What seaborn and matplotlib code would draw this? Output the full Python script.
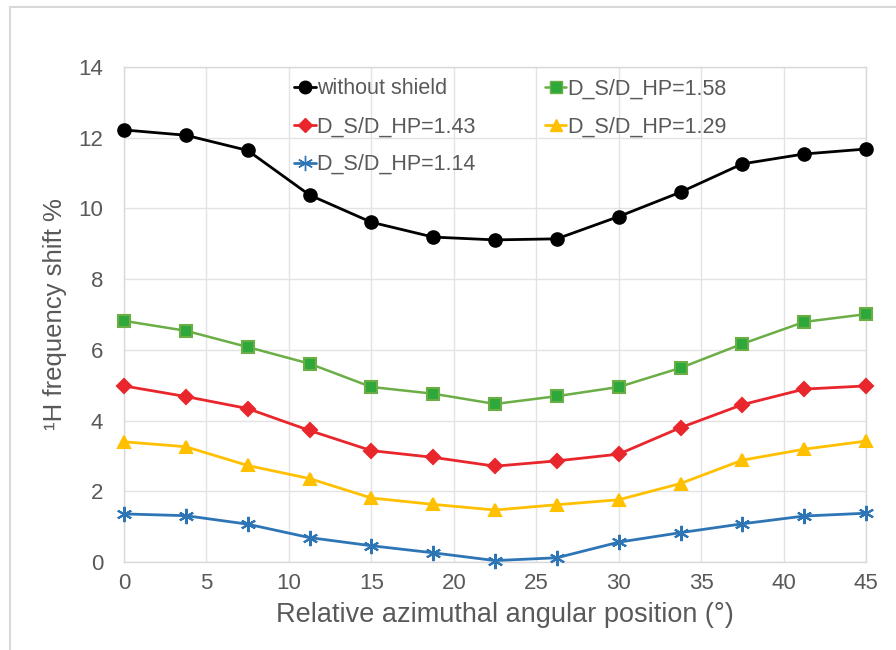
import numpy as np
import pandas as pd
import matplotlib
matplotlib.use("Agg")
import matplotlib.pyplot as plt
from matplotlib.lines import Line2D
import seaborn as sns

# Azimuthal positions (degrees)
angle = [0, 3.75, 7.5, 11.25, 15, 18.75, 22.5, 26.25, 30, 33.75, 37.5, 41.25, 45]

# 1H frequency shift (%) for each configuration
without_shield = [12.22, 12.07, 11.64, 10.38, 9.61, 9.19, 9.11, 9.14, 9.77, 10.46, 11.26, 11.54, 11.68]
ratio_158 = [6.82, 6.54, 6.08, 5.61, 4.95, 4.76, 4.47, 4.69, 4.95, 5.49, 6.17, 6.79, 7.01]
ratio_143 = [4.98, 4.68, 4.34, 3.72, 3.15, 2.96, 2.71, 2.86, 3.05, 3.80, 4.45, 4.89, 4.98]
ratio_129 = [3.40, 3.26, 2.73, 2.36, 1.81, 1.63, 1.47, 1.62, 1.76, 2.22, 2.88, 3.19, 3.42]
ratio_114 = [1.36, 1.31, 1.07, 0.69, 0.46, 0.26, 0.04, 0.12, 0.56, 0.83, 1.08, 1.30, 1.38]

labels = ["without shield", "D_S/D_HP=1.43", "D_S/D_HP=1.14",
          "D_S/D_HP=1.58", "D_S/D_HP=1.29"]
values = [without_shield, ratio_143, ratio_114, ratio_158, ratio_129]

x_ticks = [0, 5, 10, 15, 20, 25, 30, 35, 40, 45]
y_ticks = [0, 2, 4, 6, 8, 10, 12, 14]

df = pd.concat(
    [pd.DataFrame({"angle": angle, "shift": v, "series": lab}) for lab, v in zip(labels, values)],
    ignore_index=True,
)

sns.set_theme(style="white")
plt.rcParams["font.family"] = ["Liberation Sans", "DejaVu Sans"]

styles = {
    "without shield": dict(color="#000000", mfc="#000000", mec="#000000", marker="o", ms=9, lw=2.0),
    "D_S/D_HP=1.43": dict(color="#e8262b", mfc="#e8262b", mec="#e8262b", marker="D", ms=7, lw=2.0),
    "D_S/D_HP=1.14": dict(color="#2e75b6", mfc="#2e75b6", mec="#2e75b6", marker=(6, 2, 0), ms=11, lw=2.0),
    "D_S/D_HP=1.58": dict(color="#6aae45", mfc="#2ea83a", mec="#6aae45", marker="s", ms=9, lw=1.8),
    "D_S/D_HP=1.29": dict(color="#ffc000", mfc="#ffc000", mec="#ffc000", marker="^", ms=9, lw=2.0),
}

fig = plt.figure(figsize=(8.96, 6.5), dpi=100)
ax = fig.add_axes([124 / 896, 1 - 562 / 650, (866 - 124) / 896, (562 - 67) / 650])

draw_order = ["without shield", "D_S/D_HP=1.58", "D_S/D_HP=1.43", "D_S/D_HP=1.29", "D_S/D_HP=1.14"]
for lab in draw_order:
    st = styles[lab]
    sub = df[df["series"] == lab]
    sns.lineplot(data=sub, x="angle", y="shift", ax=ax, color=st["color"], lw=st["lw"],
                 marker=st["marker"], markersize=st["ms"], markerfacecolor=st["mfc"],
                 markeredgecolor=st["mec"], markeredgewidth=1.5, label=lab, legend=False,
                 clip_on=False, zorder=3)

ax.set_xlim(0, 45)
ax.set_ylim(0, 14)
ax.set_xticks(x_ticks)
ax.set_yticks(y_ticks)
ax.grid(True, color="#e3e3e3", lw=1.0)
ax.set_axisbelow(True)
for s in ax.spines.values():
    s.set_color("#d9d9d9")
    s.set_linewidth(1.0)
ax.tick_params(axis="both", length=0, labelsize=16, colors="#595959")
ax.tick_params(axis="y", pad=15)
ax.tick_params(axis="x", pad=8)
ax.set_xlabel("Relative azimuthal angular position (°)", fontsize=19.5, color="#595959")
ax.xaxis.set_label_coords(0.513, -0.08)
ax.set_ylabel("¹H frequency shift %", fontsize=18.5, color="#595959", labelpad=8)

handles = [Line2D([], [], color=styles[l]["color"], lw=styles[l]["lw"], marker=styles[l]["marker"],
                  markersize=styles[l]["ms"], markerfacecolor=styles[l]["mfc"],
                  markeredgecolor=styles[l]["mec"]) for l in labels]
leg = ax.legend(handles, labels, ncol=2, frameon=False, loc="upper left",
                bbox_to_anchor=(0.203, 1.016), fontsize=15.5, handlelength=1.0,
                handletextpad=0.05, columnspacing=3.2, labelspacing=0.78)
for t in leg.get_texts():
    t.set_color("#595959")

# outer chart frame
fig.add_artist(Line2D([10 / 896, 10 / 896], [0, 1 - 7 / 650], transform=fig.transFigure,
                      color="#d9d9d9", lw=1.5))
fig.add_artist(Line2D([10 / 896, 1], [1 - 7 / 650, 1 - 7 / 650], transform=fig.transFigure,
                      color="#d9d9d9", lw=1.5))

fig.savefig("out.png", dpi=100)
